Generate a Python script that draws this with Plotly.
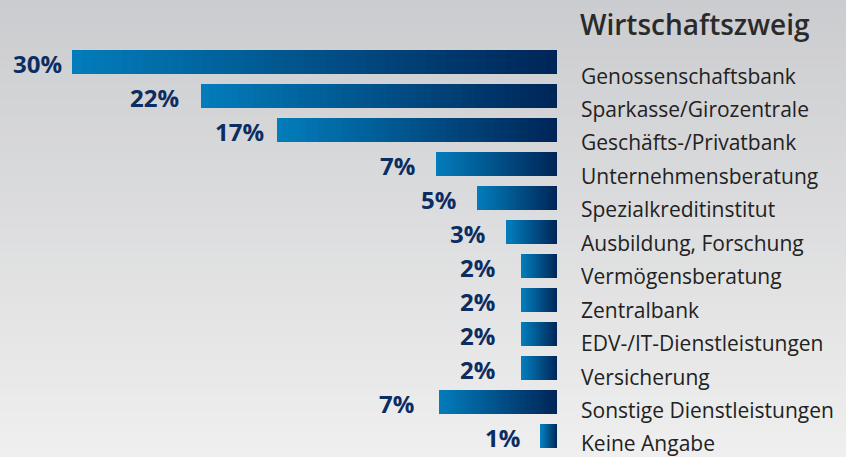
import plotly.graph_objects as go

categories = ["Genossenschaftsbank", "Sparkasse/Girozentrale", "Geschäfts-/Privatbank",
              "Unternehmensberatung", "Spezialkreditinstitut", "Ausbildung, Forschung",
              "Vermögensberatung", "Zentralbank", "EDV-/IT-Dienstleistungen",
              "Versicherung", "Sonstige Dienstleistungen", "Keine Angabe"]
values = [30, 22, 17.3, 7.5, 4.95, 3.1, 2.2, 2.2, 2.2, 2.2, 7.3, 1.0]
labels = ["30%", "22%", "17%", "7%", "5%", "3%", "2%", "2%", "2%", "2%", "7%", "1%"]
title_text = "Wirtschaftszweig"

# styling: pixel gap between each percent label and its bar (as in the original layout)
LABEL_GAPS_PX = [9, 21, 12, 20, 20, 21, 25, 25, 25, 25, 24, 20]

W, H = 846, 457
M = dict(l=0, r=289, t=45, b=4, autoexpand=False)

dark = (0, 38, 88)
light = (2, 124, 186)
N = 48

def lerp(a, b, t):
    return "rgb(%d,%d,%d)" % tuple(round(a[i] + (b[i] - a[i]) * t) for i in range(3))

fig = go.Figure()
for k in range(N):
    t = k / (N - 1)
    fig.add_trace(go.Bar(
        y=categories, x=[v / N for v in values], orientation="h",
        marker=dict(color=lerp(dark, light, t), line=dict(width=0)),
        hoverinfo="skip", showlegend=False))

annotations = []
for i, (c, v, lab) in enumerate(zip(categories, values, labels)):
    annotations.append(dict(x=v, y=c, xref="x", yref="y", text="<b>" + lab + "</b>",
                            showarrow=False, xanchor="right", yanchor="middle",
                            xshift=-(LABEL_GAPS_PX[i] - 1), yshift=-1,
                            font=dict(family="Open Sans", size=24, color="#0c2d62")))
    annotations.append(dict(x=0, y=c, xref="x", yref="y", text=c,
                            showarrow=False, xanchor="left", yanchor="middle",
                            xshift=22, yshift=-(13.5 - 0.55 * i),
                            font=dict(family="Open Sans", size=21, color="#222222")))

# background vertical gradient
plot_h = H - M["t"] - M["b"]
shapes = []
S = 60
top_c = (203, 204, 207)
bot_c = (239, 239, 239)
for i in range(S):
    p0 = H * i / S
    p1 = H * (i + 1) / S + 1
    t = (i + 0.5) / S
    shapes.append(dict(type="rect", xref="paper", yref="paper", layer="below",
                       x0=-0.01, x1=1.6,
                       y0=(H - M["b"] - p1) / plot_h, y1=(H - M["b"] - p0) / plot_h,
                       fillcolor=lerp(top_c, bot_c, t), line=dict(width=0)))

fig.update_layout(
    width=W, height=H, margin=M,
    barmode="stack", bargap=0.32,
    paper_bgcolor="rgb(220,220,222)", plot_bgcolor="rgba(0,0,0,0)",
    xaxis=dict(range=[34.45, 0], visible=False, fixedrange=True, automargin=False),
    yaxis=dict(range=[len(categories) - 0.5, -0.5], visible=False, fixedrange=True,
               automargin=False),
    annotations=annotations, shapes=shapes,
    title=dict(text=title_text, x=580 / W, xanchor="left", y=1 - 25 / H, yanchor="middle",
               xref="container", yref="container", automargin=False,
               font=dict(family="Open Sans", size=28, weight=600, color="#2a2a2a")),
)

fig.write_html("out.html", config={"displayModeBar": False},
               post_script="document.body.style.margin='0';document.body.style.overflow='hidden';")
